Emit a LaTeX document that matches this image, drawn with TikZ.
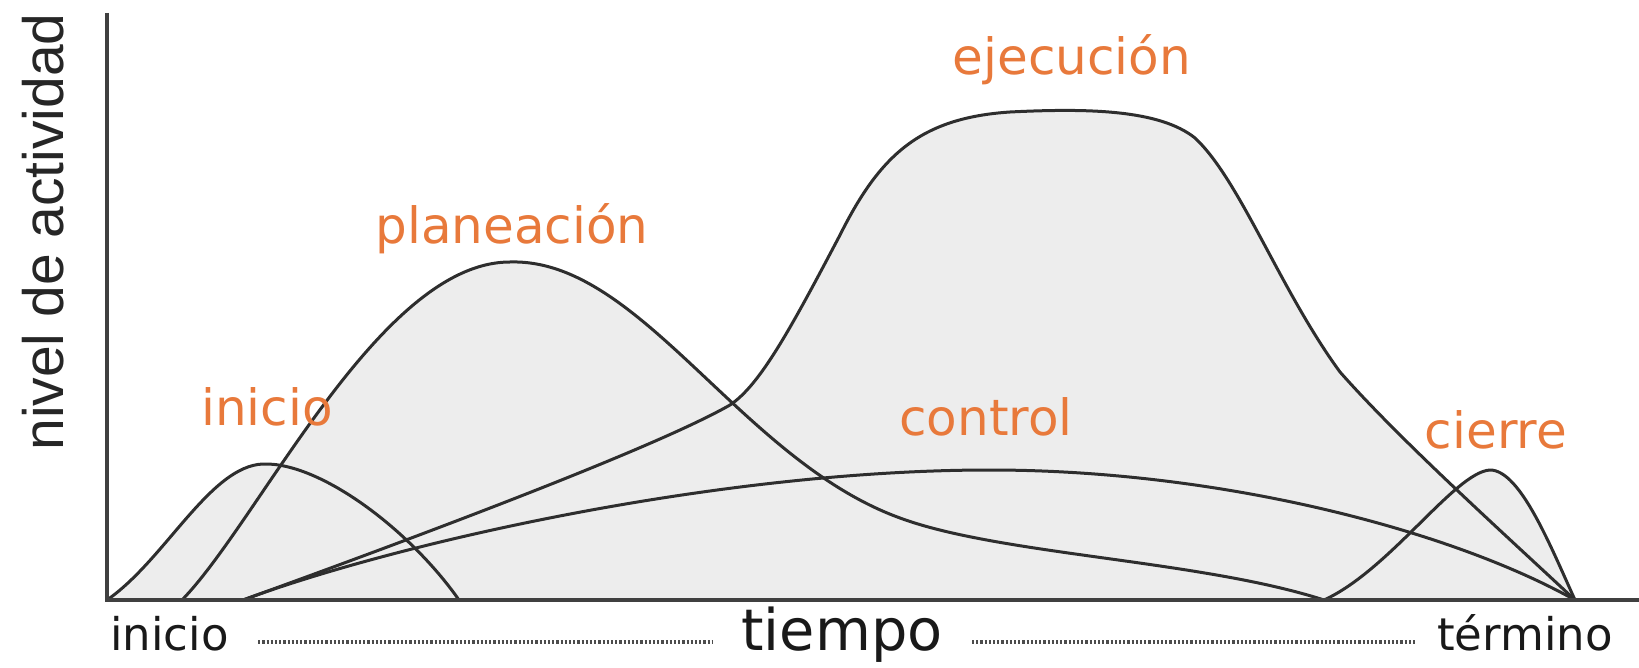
\documentclass[tikz,border=0pt]{standalone}
\usepackage{fontspec}
\setmainfont{DejaVu Sans}
\newfontfamily\ejefont{Liberation Sans}
\usepackage{xcolor}
\definecolor{FaseNaranja}{HTML}{E8793B}
\definecolor{RellenoGris}{HTML}{EDEDED}
\definecolor{EjeGris}{HTML}{404040}
\definecolor{CurvaGris}{HTML}{2E2E2E}
\usetikzlibrary{calc}
\tikzset{
  % Text styles
  fasetexto/.style={font=\fontsize{25}{30}\selectfont, text=FaseNaranja, inner sep=0pt, anchor=base},
  tiempotexto/.style={font=\fontsize{22.5}{27}\selectfont, text=black!90, inner sep=0pt},
  ejetexto/.style={font=\ejefont\fontsize{28.5}{34}\selectfont, text=black!85, inner sep=0pt},
  % Line styles
  eje/.style={line width=1.8pt, draw=EjeGris},
  curva/.style={line width=1.5pt, draw=CurvaGris, line join=round},
  relleno/.style={fill=RellenoGris},
  punteado/.style={line width=1.6pt, draw=black!70, dash pattern=on 1.1pt off 1pt}
}

\begin{document}
\begin{tikzpicture}[x=0.5pt, y=-0.5pt]
  \useasboundingbox (0,0) rectangle (1639,668);

  % phase curves
  \path[save path=\curvainicio] (107,600)
    .. controls (165,560) and (210,466) .. (263,464)
    .. controls (320,462) and (410,530) .. (459,600) -- cycle;
  \path[save path=\curvaplan] (182,600)
    .. controls (260,520) and (380,262) .. (510,262)
    .. controls (640,258) and (740,460) .. (900,518)
    .. controls (1000,555) and (1200,560) .. (1324,600) -- cycle;
  \path[save path=\curvaejec] (243,600)
    .. controls (450,525) and (660,445) .. (730,405)
    .. controls (760,385) and (790,330) .. (840,235)
    .. controls (880,155) and (920,118) .. (1010,112)
    .. controls (1090,108) and (1160,110) .. (1195,138)
    .. controls (1240,180) and (1280,290) .. (1340,372)
    .. controls (1400,440) and (1500,530) .. (1575,600) -- cycle;
  \path[save path=\curvacontrol] (243,600)
    .. controls (400,542) and (720,470) .. (990,470)
    .. controls (1220,470) and (1450,530) .. (1575,600) -- cycle;
  \path[save path=\curvacierre] (1324,600)
    .. controls (1390,570) and (1455,472) .. (1490,470)
    .. controls (1520,470) and (1550,545) .. (1575,600) -- cycle;

  \fill[relleno, use path=\curvainicio];
  \fill[relleno, use path=\curvaplan];
  \fill[relleno, use path=\curvaejec];
  \fill[relleno, use path=\curvacontrol];
  \fill[relleno, use path=\curvacierre];

  \draw[curva, use path=\curvainicio];
  \draw[curva, use path=\curvaplan];
  \draw[curva, use path=\curvaejec];
  \draw[curva, use path=\curvacontrol];
  \draw[curva, use path=\curvacierre];

  % axes
  \coordinate (ytope) at (107,13);
  \coordinate (origen) at (107,600);
  \coordinate (xfin) at (1639,600);
  \draw[eje] (ytope) -- (origen) -- (xfin);

  % phase labels
  \node[fasetexto] (lblinicio) at (267,425) {inicio};
  \node[fasetexto] (lblplan) at (512,244) {planeación};
  \node[fasetexto] (lblejec) at (1072,75) {ejecución};
  \node[fasetexto] (lblcontrol) at (986,435) {control};
  \node[fasetexto] (lblcierre) at (1496,448) {cierre};

  % axis labels
  \node[ejetexto, rotate=90, anchor=base] (nivel) at (63,232) {nivel de actividad};
  \node[tiempotexto, anchor=base west] (ini) at (110,650) {inicio};
  \node[tiempotexto, font=\fontsize{28.7}{34}\selectfont, anchor=base] (tiempo) at (842,650) {tiempo};
  \node[tiempotexto, anchor=base east] (termino) at (1613,650) {término};

  \draw[punteado] ([shift={(14.5pt,4pt)}]ini.base east) -- ([shift={(-14pt,4pt)}]tiempo.base west);
  \draw[punteado] ([shift={(14.5pt,4pt)}]tiempo.base east) -- ([shift={(-11pt,4pt)}]termino.base west);
\end{tikzpicture}
\end{document}
